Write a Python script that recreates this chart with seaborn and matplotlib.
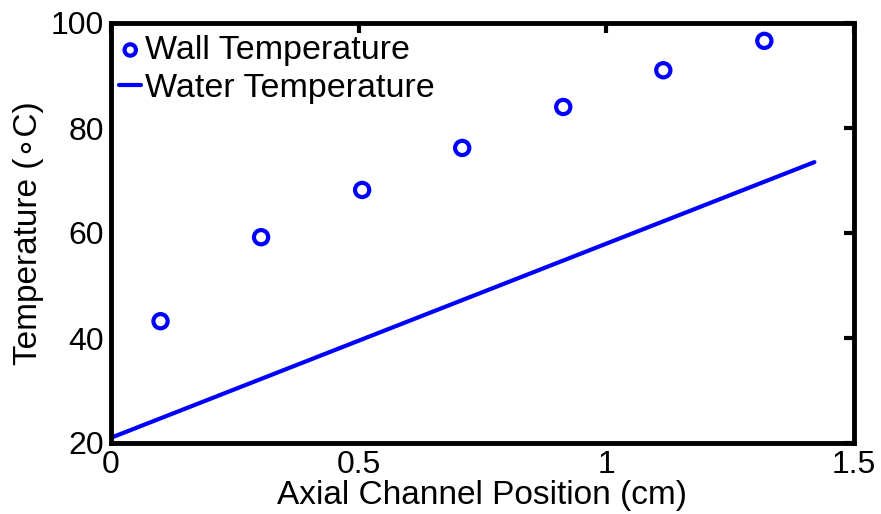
import matplotlib
matplotlib.use("Agg")
import matplotlib.pyplot as plt
import seaborn as sns
import pandas as pd

wall_x = [0.1, 0.303, 0.507, 0.709, 0.913, 1.115, 1.319]
wall_t = [43.2, 59.2, 68.2, 76.2, 84.0, 91.0, 96.6]
water_x = [0.0, 1.42]
water_t = [21.0, 73.5]
xticks = [0, 0.5, 1, 1.5]
yticks = [20, 40, 60, 80, 100]

sns.set_style("white")
plt.rcParams['font.family'] = ['Liberation Sans', 'DejaVu Sans']
plt.rcParams['text.color'] = 'black'
plt.rcParams['axes.labelcolor'] = 'black'
plt.rcParams['xtick.color'] = 'black'
plt.rcParams['ytick.color'] = 'black'

fig = plt.figure(figsize=(8.81, 5.14), dpi=100)
ax = fig.add_axes([111/881, 1-443/514, (854-111)/881, (443-23)/514])

wall = pd.DataFrame({"x": wall_x, "t": wall_t})
water = pd.DataFrame({"x": water_x, "t": water_t})

sns.scatterplot(data=wall, x="x", y="t", ax=ax, marker="o", s=105,
                facecolor="none", edgecolor="#0000ff", linewidth=3,
                label="Wall Temperature", zorder=3)
sns.lineplot(data=water, x="x", y="t", ax=ax, color="#0000ff", linewidth=3,
             label="Water Temperature")

ax.set_xlim(0, 1.5)
ax.set_ylim(20, 100)
ax.set_xticks(xticks)
ax.set_xticklabels(["0", "0.5", "1", "1.5"])
ax.set_yticks(yticks)
ax.set_yticklabels([str(v) for v in yticks])
ax.tick_params(direction="in", length=7, width=3, labelsize=23, top=True, right=True,
               pad=5)
for s in ax.spines.values():
    s.set_linewidth(3.5)
    s.set_color("black")
ax.set_xlabel("Axial Channel Position (cm)", fontsize=24, labelpad=0)
ax.set_ylabel("Temperature (\u2218C)", fontsize=24, labelpad=5)

leg = ax.legend(loc="upper left", bbox_to_anchor=(-0.005, 1.0), frameon=False,
                fontsize=24.5, handlelength=0.65, markerscale=0.8,
                handletextpad=0.1, borderaxespad=0.1, labelspacing=0.22,
                borderpad=0.25)

fig.savefig("out.png", dpi=100)
